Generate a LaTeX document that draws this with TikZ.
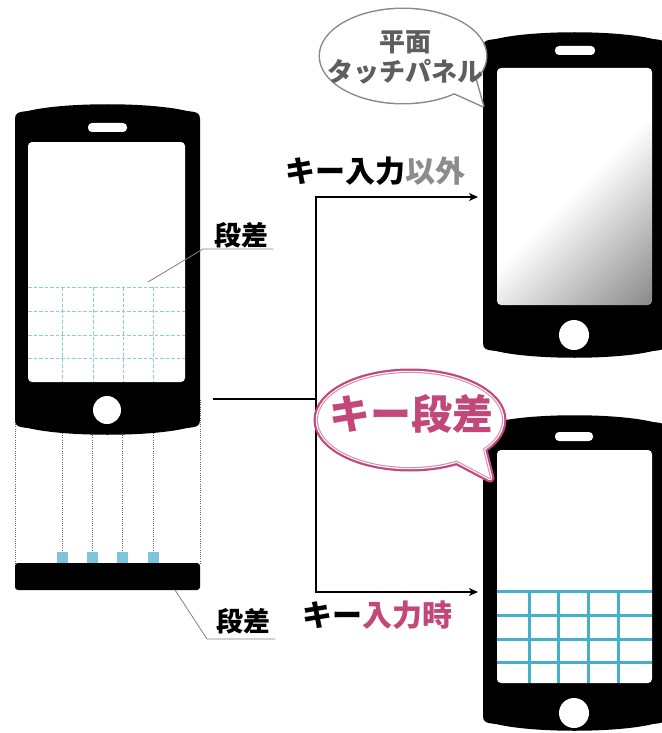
\documentclass[tikz,border=0pt]{standalone}
\usepackage{fontspec}
\newfontfamily\jp{Noto Sans CJK JP}
\usetikzlibrary{arrows.meta,calc}

\definecolor{keypink}{HTML}{C2487A}
\definecolor{keypinklight}{HTML}{D98AAA}
\definecolor{gridblue}{HTML}{45B0C8}
\definecolor{ghostblue}{HTML}{8CCBDB}
\definecolor{padblue}{HTML}{7EC5DC}
\definecolor{bubblegray}{HTML}{8A8A8A}
\definecolor{textgray}{HTML}{5E5E5E}
\definecolor{softgray}{HTML}{8C8C8C}

% glossy reflection on the flat touch panel
\pgfdeclarehorizontalshading{screengloss}{100bp}{color(0bp)=(white); color(51bp)=(white); color(86bp)=(black!47); color(100bp)=(black!52)}

% handset body: left, right, top, bottom
\newcommand\handset[4]{%
  \fill[black] ({#1},{#3+15}) .. controls ({#1},{#3+9}) and ({#1+3},{#3+8}) .. ({#1+13},{#3+7})
    .. controls ({#1+50},{#3-2}) and ({#2-50},{#3-2}) .. ({#2-13},{#3+7})
    .. controls ({#2-3},{#3+8}) and ({#2},{#3+9}) .. ({#2},{#3+15})
    -- ({#2},{#4-15})
    .. controls ({#2},{#4-9}) and ({#2-3},{#4-8}) .. ({#2-13},{#4-7})
    .. controls ({#2-50},{#4+2}) and ({#1+50},{#4+2}) .. ({#1+13},{#4-7})
    .. controls ({#1+3},{#4-8}) and ({#1},{#4-9}) .. ({#1},{#4-15}) -- cycle;}

\begin{document}
\begin{tikzpicture}[x=1pt,y=-1pt,
  lbl/.style={inner sep=0pt, font=\jp\bfseries\fontsize{27pt}{30pt}\selectfont},
  head/.style={inner sep=0pt, font=\jp\bfseries\fontsize{30pt}{33pt}\selectfont},
  guide/.style={draw=black!60, line width=0.7pt, dash pattern=on 1pt off 1.2pt},
  ghostgrid/.style={draw=ghostblue, line width=0.8pt, dash pattern=on 3.5pt off 2pt},
  keygrid/.style={draw=gridblue, line width=3pt},
  leader/.style={draw=black!50, line width=0.8pt},
  flow/.style={draw=black, line width=1.4pt},
  flowarrow/.style={flow, -{Stealth[length=9pt,width=8pt,inset=2.5pt]}},
  speaker/.style={fill=white, rounded corners=4pt},
  screen/.style={fill=white, rounded corners=4pt}]

\useasboundingbox (0,0) rectangle (661,733);

% ---------- left handset with the key step beneath it ----------
\foreach \gx in {62,92,122,153} \draw[guide] (\gx,400) -- (\gx,552);
\draw[guide] (15,400) -- (15,563);
\draw[guide] (200,400) -- (200,563);

\handset{15}{200}{104}{435}
\fill[screen] (28,142) rectangle (185,382);
\fill[speaker] (88,123) rectangle (127,132);
\fill[white] (107,410) circle (14pt);

% dashed key outline on the panel
\foreach \gy in {287,311,335,358} \draw[ghostgrid] (28,\gy) -- (185,\gy);
\foreach \gx in {62,93,123,153} \draw[ghostgrid] (\gx,287) -- (\gx,382);

% key pads on the base
\foreach \gx in {62,92,122,153} \fill[padblue] (\gx-5.5,552) rectangle (\gx+5.5,563);
\fill[black, rounded corners=3pt] (15,563) rectangle (200,590);

% labels with leader lines
\node[lbl] (stepTop) at (241,235) {段差};
\coordinate (stepTopPt) at (148,282);
\coordinate (stepTopKnee) at (203,249);
\coordinate (stepTopEnd) at (273,249);
\draw[leader] (stepTopPt) -- (stepTopKnee) -- (stepTopEnd);

\node[lbl] (stepBot) at (243,621) {段差};
\coordinate (stepBotPt) at (175,590);
\coordinate (stepBotKnee) at (207,639);
\coordinate (stepBotEnd) at (275,639);
\draw[leader] (stepBotPt) -- (stepBotKnee) -- (stepBotEnd);

% ---------- upper right handset: flat touch panel ----------
\handset{483}{666}{32}{358}
\shade[shading=screengloss, shading angle=-45, rounded corners=4pt] (497,68) rectangle (652,305);
\fill[speaker] (555,46) rectangle (595,55);
\fill[white] (574,335) circle (15pt);

% ---------- lower right handset: raised keys ----------
\handset{483}{666}{415}{731}
\fill[screen] (497,450) rectangle (652,683);
\fill[speaker] (555,432) rectangle (593,441);
\fill[white] (574,713) circle (15pt);
\foreach \gy in {591,615,639,662} \draw[keygrid] (497,\gy) -- (652,\gy);
\foreach \gx in {529,558,588,618} \draw[keygrid] (\gx,591) -- (\gx,683);

% ---------- branching connectors ----------
\coordinate (src) at (213,399);
\coordinate (fork) at (316,399);
\coordinate (toFlat) at (478,197);
\coordinate (toKeys) at (478,592);
\draw[flow] (src) -- (fork);
\draw[flowarrow] (fork) |- (toFlat);
\draw[flowarrow] (fork) |- (toKeys);

\node[head] (otherInput) at (375,171) {キー入力\textcolor{softgray}{以外}};
\node[head] (keyInput) at (377,615) {キー\textcolor{keypink}{入力時}};

% ---------- speech bubble: flat touch panel ----------
\begin{scope}
  \path[draw=bubblegray, line width=3pt] (403,56) ellipse [x radius=83pt, y radius=47pt];
  \path[draw=bubblegray, line width=3pt, line join=round] (452,92) -- (483,106) -- (475,78) -- cycle;
  \fill[white] (403,56) ellipse [x radius=83pt, y radius=47pt];
  \fill[white] (452,92) -- (483,106) -- (475,78) -- cycle;
\end{scope}
\node[inner sep=0pt, align=center, text=textgray, font=\jp\bfseries\fontsize{26pt}{30pt}\selectfont]
  (flatBubble) at (405,57) {平面\\タッチパネル};

% ---------- speech bubble: key step ----------
\begin{scope}
  \foreach \w/\c in {9/keypink, 4.5/white, 2.2/keypinklight} {
    \path[draw=\c, line width=\w pt] (410,420) ellipse [x radius=92pt, y radius=47pt];
    \path[draw=\c, line width=\w pt, line join=round] (452,458) -- (490,478) -- (482,446) -- cycle;
  }
  \fill[white] (410,420) ellipse [x radius=92pt, y radius=47pt];
  \fill[white] (452,458) -- (490,478) -- (482,446) -- cycle;
\end{scope}
\node[inner sep=0pt, text=keypink, font=\jp\bfseries\fontsize{41pt}{44pt}\selectfont]
  (stepBubble) at (411,414) {キー段差};

\end{tikzpicture}
\end{document}
